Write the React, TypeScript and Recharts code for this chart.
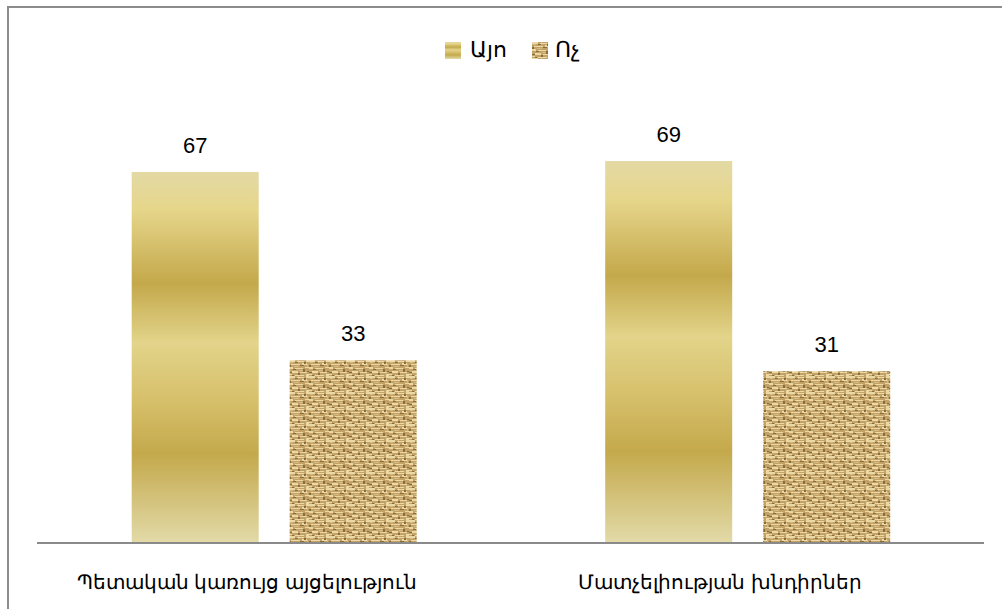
import { BarChart, Bar, XAxis, YAxis, Legend, LabelList } from "recharts";

const categories = ["Պետական կառույց այցելություն", "Մատչելիության խնդիրներ"];
const yesValues = [67, 69];
const noValues = [33, 31];
const seriesNames = ["Այո", "Ոչ"];

const data = categories.map((name, i) => ({
  name,
  yes: yesValues[i],
  no: noValues[i],
}));

const FONT = "'Liberation Sans', 'Noto Sans', Arial, sans-serif";

// light and dark weave threads for the burlap fill: [x, y, w, h]
const lightThreads = [
  [0, 0, 6, 2], [8, 1, 7, 1], [17, 0, 3, 2], [2, 4, 9, 1], [13, 3, 5, 2],
  [0, 7, 4, 2], [6, 8, 8, 1], [16, 7, 4, 1], [3, 11, 6, 2], [11, 12, 7, 1],
  [0, 14, 3, 1], [6, 15, 9, 1], [17, 14, 3, 2],
];
const darkThreads = [
  [6, 2, 3, 1], [15, 2, 2, 2], [0, 5, 2, 2], [11, 5, 4, 1], [4, 9, 3, 1],
  [14, 9, 2, 3], [0, 12, 3, 1], [9, 13, 2, 2], [18, 11, 2, 1], [3, 15, 2, 1],
];
const midThreads = [
  [9, 0, 1, 3], [1, 2, 3, 1], [18, 4, 1, 3], [5, 6, 5, 1], [10, 10, 4, 1], [13, 15, 2, 1],
];

const CategoryTick = (props: any) => {
  const { x, y, payload } = props;
  return (
    <text
      x={x - 27}
      y={y + 38}
      textAnchor="middle"
      fontSize={20}
      fontFamily={FONT}
      fill="#000"
    >
      {payload.value}
    </text>
  );
};

const LegendContent = () => (
  <div style={{ display: "flex", alignItems: "center", fontFamily: FONT, fontSize: 22, color: "#000" }}>
    <svg width={16} height={17} style={{ marginRight: 9 }}>
      <rect width={16} height={17} fill="url(#goldGrad)" />
    </svg>
    <span style={{ marginRight: 25 }}>{seriesNames[0]}</span>
    <svg width={16} height={17} style={{ marginRight: 7 }}>
      <rect width={16} height={17} fill="url(#burlap)" />
    </svg>
    <span>{seriesNames[1]}</span>
  </div>
);

export default function App() {
  return (
    <div
      style={{
        position: "absolute",
        left: 7,
        top: 6,
        width: 995,
        height: 603,
        boxSizing: "border-box",
        borderLeft: "2px solid #8c8c8c",
        borderTop: "2px solid #8c8c8c",
        background: "#fff",
      }}
    >
      <BarChart
        width={993}
        height={601}
        data={data}
        margin={{ top: 92, right: 18, bottom: 0, left: 28 }}
        barCategoryGap="20%"
        barGap={31}
      >
        <defs>
          <linearGradient id="goldGrad" x1="0" y1="0" x2="0" y2="1">
            <stop offset="0%" stopColor="#e3d9a4" />
            <stop offset="10%" stopColor="#e6d68b" />
            <stop offset="30%" stopColor="#c4a84b" />
            <stop offset="46%" stopColor="#e2d48a" />
            <stop offset="62%" stopColor="#d6bf6a" />
            <stop offset="76%" stopColor="#c4a94c" />
            <stop offset="100%" stopColor="#e2daa8" />
          </linearGradient>
          <pattern id="burlap" width="20" height="16" patternUnits="userSpaceOnUse">
            <rect width="20" height="16" fill="#c2a266" />
            {midThreads.map(([x, y, w, h], i) => (
              <rect key={"m" + i} x={x} y={y} width={w} height={h} fill="#d6bc84" />
            ))}
            {lightThreads.map(([x, y, w, h], i) => (
              <rect key={"l" + i} x={x} y={y} width={w} height={h} fill="#ecd8a4" />
            ))}
            {darkThreads.map(([x, y, w, h], i) => (
              <rect key={"d" + i} x={x} y={y} width={w} height={h} fill="#8a6c3a" />
            ))}
          </pattern>
        </defs>
        <XAxis
          dataKey="name"
          axisLine={{ stroke: "#8a8a8a", strokeWidth: 2 }}
          tickLine={false}
          height={66}
          tick={<CategoryTick />}
          interval={0}
        />
        <YAxis hide domain={[0, 80]} />
        <Legend
          verticalAlign="middle"
          align="center"
          layout="horizontal"
          wrapperStyle={{ top: 29, left: 436, width: "auto", height: "auto" }}
          content={<LegendContent />}
        />
        <Bar dataKey="yes" name={seriesNames[0]} fill="url(#goldGrad)" isAnimationActive={false}>
          <LabelList dataKey="yes" position="top" offset={19} fontSize={22} fill="#000" fontFamily={FONT} />
        </Bar>
        <Bar dataKey="no" name={seriesNames[1]} fill="url(#burlap)" isAnimationActive={false}>
          <LabelList dataKey="no" position="top" offset={19} fontSize={22} fill="#000" fontFamily={FONT} />
        </Bar>
      </BarChart>
    </div>
  );
}
